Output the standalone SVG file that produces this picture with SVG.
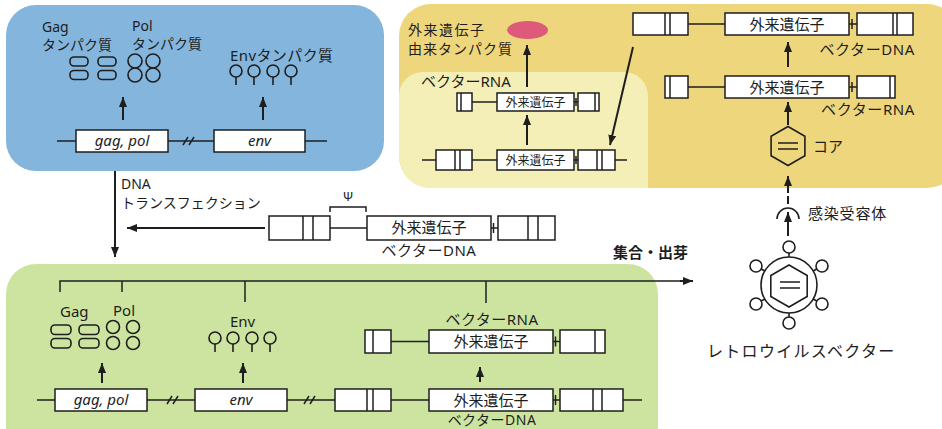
<svg xmlns="http://www.w3.org/2000/svg" width="942" height="429" viewBox="0 0 942 429">
  <style>
    text { font-family: "Noto Sans", "Noto Sans CJK JP", sans-serif; fill: #1e1e1e; font-size: 15px; }
    .sm { font-size: 12px; }
    .st { font-size: 14px; }
    .it { font-style: italic; }
    .mid { text-anchor: middle; }
    .end { text-anchor: end; }
    .ln { stroke: #1e1e1e; stroke-width: 1.5; fill: none; }
    .bx { fill: #ffffff; stroke: #1e1e1e; stroke-width: 1.5; }
    .pr { fill: none; stroke: #1e1e1e; stroke-width: 1.6; }
    .ar { stroke: #1e1e1e; stroke-width: 2; fill: none; marker-end: url(#ah); }
    .ard { stroke: #1e1e1e; stroke-width: 2; fill: none; stroke-dasharray: 8 3; marker-end: url(#ah); }
  </style>
  <defs>
    <marker id="ah" markerWidth="10" markerHeight="8" refX="10" refY="4" orient="auto" markerUnits="userSpaceOnUse">
      <path d="M0,0 L10,4 L0,8 z" fill="#1e1e1e"/>
    </marker>
    <clipPath id="yclip">
      <rect x="399" y="4" width="560" height="184" rx="32"/>
    </clipPath>
  </defs>

  <!-- packaging cell: plasmid expression -->
  <g id="packaging-cell">
    <rect x="6" y="5" width="378" height="166" rx="30" fill="#84b5dd"/>
    <text class="st" x="42" y="32">Gag</text>
    <text class="st" x="42" y="50">タンパク質</text>
    <text class="st" x="132" y="31">Pol</text>
    <text class="st" x="132" y="49">タンパク質</text>
    <text x="230" y="61" style="letter-spacing:0.4px">Envタンパク質</text>
    <rect class="pr" x="70" y="57" width="18" height="9" rx="4"/>
    <rect class="pr" x="98" y="57" width="18" height="9" rx="4"/>
    <rect class="pr" x="70" y="70.5" width="18" height="9" rx="4"/>
    <rect class="pr" x="98" y="70.5" width="18" height="9" rx="4"/>
    <circle class="pr" cx="135" cy="61" r="7"/>
    <circle class="pr" cx="153" cy="61" r="7"/>
    <circle class="pr" cx="135" cy="75" r="7"/>
    <circle class="pr" cx="153" cy="75" r="7"/>
    <g class="pr">
      <circle cx="236" cy="71" r="6"/><line x1="236" y1="77" x2="236" y2="85"/>
      <circle cx="254" cy="71" r="6"/><line x1="254" y1="77" x2="254" y2="85"/>
      <circle cx="273" cy="71" r="6"/><line x1="273" y1="77" x2="273" y2="85"/>
      <circle cx="291" cy="71" r="6"/><line x1="291" y1="77" x2="291" y2="85"/>
    </g>
    <line class="ln" x1="57" y1="141" x2="327" y2="141"/>
    <line class="ln" x1="183" y1="145" x2="188" y2="137"/>
    <line class="ln" x1="189" y1="145" x2="194" y2="137"/>
    <rect class="bx" x="76" y="130" width="92" height="22"/>
    <text class="it mid" x="122" y="146">gag, pol</text>
    <rect class="bx" x="214" y="130" width="91" height="22"/>
    <text class="it mid" x="259.5" y="146">env</text>
  </g>

  <!-- infected target cell -->
  <g id="target-cell">
    <rect x="399" y="4" width="560" height="184" rx="32" fill="#eed67c"/>
    <rect x="399" y="72" width="249" height="150" rx="24" fill="#f4efb6" clip-path="url(#yclip)"/>
    <ellipse cx="527.5" cy="30" rx="20.5" ry="9" fill="#de5a7a"/>
    <text class="st" x="408" y="35" style="letter-spacing:1.5px">外来遺伝子</text>
    <text class="st" x="408" y="54" style="letter-spacing:1px">由来タンパク質</text>
    <text x="421" y="87">ベクターRNA</text>
    <!-- transcript inside cell -->
    <line class="ln" x1="472" y1="102" x2="578" y2="102"/>
    <line class="ln" x1="576" y1="98" x2="576" y2="106"/>
    <rect class="bx" x="457" y="93" width="15" height="18"/>
    <line class="ln" x1="461" y1="93" x2="461" y2="111"/>
    <rect class="bx" x="497" y="93" width="77" height="18"/>
    <text class="sm mid" x="535.5" y="106.5">外来遺伝子</text>
    <rect class="bx" x="578" y="93" width="21" height="18"/>
    <line class="ln" x1="595" y1="93" x2="595" y2="111"/>
    <!-- integrated provirus -->
    <line class="ln" x1="422" y1="160" x2="627" y2="160"/>
    <line class="ln" x1="576" y1="156" x2="576" y2="164"/>
    <rect class="bx" x="436" y="150" width="36" height="20"/>
    <line class="ln" x1="455" y1="150" x2="455" y2="170"/>
    <line class="ln" x1="460" y1="150" x2="460" y2="170"/>
    <rect class="bx" x="497" y="150" width="77" height="20"/>
    <text class="sm mid" x="535.5" y="164.5">外来遺伝子</text>
    <rect class="bx" x="578" y="150" width="37" height="20"/>
    <line class="ln" x1="597" y1="150" x2="597" y2="170"/>
    <line class="ln" x1="602" y1="150" x2="602" y2="170"/>
    <!-- reverse transcribed DNA -->
    <line class="ln" x1="688" y1="24" x2="857" y2="24"/>
    <line class="ln" x1="852" y1="19" x2="852" y2="29"/>
    <rect class="bx" x="633" y="13" width="55" height="22"/>
    <line class="ln" x1="665" y1="13" x2="665" y2="35"/>
    <line class="ln" x1="670" y1="13" x2="670" y2="35"/>
    <rect class="bx" x="725" y="13" width="124" height="22"/>
    <text class="mid" x="787" y="29.5">外来遺伝子</text>
    <rect class="bx" x="857" y="13" width="56" height="22"/>
    <line class="ln" x1="893" y1="13" x2="893" y2="35"/>
    <line class="ln" x1="897" y1="13" x2="897" y2="35"/>
    <text class="end" x="915" y="55" style="letter-spacing:0.6px">ベクターDNA</text>
    <!-- genomic RNA from core -->
    <line class="ln" x1="688" y1="87" x2="857" y2="87"/>
    <line class="ln" x1="852" y1="82" x2="852" y2="92"/>
    <rect class="bx" x="665" y="76" width="23" height="22"/>
    <line class="ln" x1="670" y1="76" x2="670" y2="98"/>
    <rect class="bx" x="725" y="76" width="124" height="22"/>
    <text class="mid" x="787" y="92.5">外来遺伝子</text>
    <rect class="bx" x="857" y="76" width="38" height="22"/>
    <line class="ln" x1="890" y1="76" x2="890" y2="98"/>
    <text class="end" x="915" y="115" style="letter-spacing:0.6px">ベクターRNA</text>
    <!-- core -->
    <polygon class="pr" points="788,126.5 804.9,136.25 804.9,155.75 788,165.5 771.1,155.75 771.1,136.25"/>
    <line class="ln" x1="778" y1="143" x2="798" y2="143"/>
    <line class="ln" x1="778" y1="149" x2="798" y2="149"/>
    <text x="813" y="152">コア</text>
  </g>

  <!-- retroviral vector particle -->
  <g id="retrovirus-vector">
    <path class="pr" d="M777,219 A11,11 0 0 1 799,219"/>
    <text x="808" y="219" style="letter-spacing:0.8px">感染受容体</text>
    <circle class="pr" cx="789" cy="285" r="28"/>
    <polygon class="pr" points="789,265 807.2,275.5 807.2,296.5 789,307 770.8,296.5 770.8,275.5"/>
    <line class="ln" x1="780" y1="282" x2="800" y2="282"/>
    <line class="ln" x1="780" y1="288" x2="800" y2="288"/>
    <g class="pr">
      <circle cx="789" cy="247" r="6"/><line x1="789" y1="253" x2="789" y2="257"/>
      <circle cx="789" cy="323" r="6"/><line x1="789" y1="313" x2="789" y2="317"/>
      <circle cx="822" cy="266" r="6"/><line x1="813.2" y1="271" x2="816.8" y2="269"/>
      <circle cx="822" cy="304" r="6"/><line x1="813.2" y1="299" x2="816.8" y2="301"/>
      <circle cx="756" cy="266" r="6"/><line x1="764.8" y1="271" x2="761.2" y2="269"/>
      <circle cx="756" cy="304" r="6"/><line x1="764.8" y1="299" x2="761.2" y2="301"/>
    </g>
    <text x="707" y="357" style="font-size:16px;letter-spacing:1.3px">レトロウイルスベクター</text>
  </g>

  <!-- vector plasmid for transfection -->
  <g id="vector-plasmid">
    <line class="ln" x1="330" y1="228" x2="498" y2="228"/>
    <line class="ln" x1="493.5" y1="223" x2="493.5" y2="233"/>
    <rect class="bx" x="269" y="216" width="61" height="24"/>
    <line class="ln" x1="303" y1="216" x2="303" y2="240"/>
    <line class="ln" x1="313" y1="216" x2="313" y2="240"/>
    <path class="ln" d="M330,212 V207 H366 V212"/>
    <text class="mid" x="348" y="201" style="font-size:13px">Ψ</text>
    <rect class="bx" x="367" y="216" width="124" height="24"/>
    <text class="mid" x="429" y="233">外来遺伝子</text>
    <rect class="bx" x="498" y="216" width="57" height="24"/>
    <line class="ln" x1="528" y1="216" x2="528" y2="240"/>
    <line class="ln" x1="538" y1="216" x2="538" y2="240"/>
    <text class="mid" x="429" y="256" style="letter-spacing:0.5px">ベクターDNA</text>
  </g>

  <!-- producer cell -->
  <g id="producer-cell">
    <rect x="6" y="264" width="652" height="200" rx="30" fill="#cde4a0"/>
    <text x="60" y="317">Gag</text>
    <text x="113" y="316">Pol</text>
    <rect class="pr" x="51" y="325" width="20" height="9.5" rx="4"/>
    <rect class="pr" x="79" y="325" width="20" height="9.5" rx="4"/>
    <rect class="pr" x="51" y="338.5" width="20" height="9.5" rx="4"/>
    <rect class="pr" x="79" y="338.5" width="20" height="9.5" rx="4"/>
    <circle class="pr" cx="113" cy="327" r="6.5"/>
    <circle class="pr" cx="133" cy="327" r="6.5"/>
    <circle class="pr" cx="113" cy="343" r="6.5"/>
    <circle class="pr" cx="133" cy="343" r="6.5"/>
    <text x="230" y="327">Env</text>
    <g class="pr">
      <circle cx="215" cy="338" r="6"/><line x1="215" y1="344" x2="215" y2="352"/>
      <circle cx="233" cy="338" r="6"/><line x1="233" y1="344" x2="233" y2="352"/>
      <circle cx="252" cy="338" r="6"/><line x1="252" y1="344" x2="252" y2="352"/>
      <circle cx="270" cy="338" r="6"/><line x1="270" y1="344" x2="270" y2="352"/>
    </g>
    <line class="ln" x1="37" y1="400" x2="642" y2="400"/>
    <line class="ln" x1="167" y1="404" x2="172" y2="396"/>
    <line class="ln" x1="173" y1="404" x2="178" y2="396"/>
    <line class="ln" x1="304" y1="404" x2="309" y2="396"/>
    <line class="ln" x1="310" y1="404" x2="315" y2="396"/>
    <line class="ln" x1="555.5" y1="395" x2="555.5" y2="405"/>
    <rect class="bx" x="55" y="389" width="92" height="22"/>
    <text class="it mid" x="101" y="405">gag, pol</text>
    <rect class="bx" x="195" y="389" width="92" height="22"/>
    <text class="it mid" x="241" y="405">env</text>
    <rect class="bx" x="335" y="389" width="56" height="22"/>
    <line class="ln" x1="367" y1="389" x2="367" y2="411"/>
    <line class="ln" x1="373" y1="389" x2="373" y2="411"/>
    <rect class="bx" x="429" y="389" width="124" height="22"/>
    <text class="mid" x="491" y="405.5">外来遺伝子</text>
    <rect class="bx" x="560" y="389" width="63" height="22"/>
    <line class="ln" x1="593" y1="389" x2="593" y2="411"/>
    <line class="ln" x1="602" y1="389" x2="602" y2="411"/>
    <text class="mid st" x="492" y="425" style="letter-spacing:0.5px">ベクターDNA</text>
    <line class="ln" x1="391" y1="341.5" x2="560" y2="341.5"/>
    <line class="ln" x1="555.5" y1="336.5" x2="555.5" y2="346.5"/>
    <rect class="bx" x="365" y="330" width="26" height="23"/>
    <line class="ln" x1="373" y1="330" x2="373" y2="353"/>
    <rect class="bx" x="429" y="330" width="124" height="23"/>
    <text class="mid" x="491" y="347">外来遺伝子</text>
    <rect class="bx" x="560" y="330" width="45" height="23"/>
    <line class="ln" x1="595" y1="330" x2="595" y2="353"/>
    <text class="mid" x="492" y="325" style="letter-spacing:0.5px">ベクターRNA</text>
  </g>

  <!-- labels between cells -->
  <text class="st" x="121" y="189">DNA</text>
  <text class="st" x="121" y="208">トランスフェクション</text>
  <text x="613" y="258" style="font-weight:bold">集合・出芽</text>

  <!-- connectors -->
  <g id="connectors">
    <line class="ar" x1="123" y1="120" x2="123" y2="97"/>
    <line class="ar" x1="263" y1="120" x2="263" y2="97"/>
    <line class="ar" x1="115" y1="171" x2="115" y2="257"/>
    <line class="ar" x1="265" y1="228" x2="127" y2="228"/>
    <path class="ln" d="M60,292 V281 H690 M122,281 V292 M245,281 V302 M486,281 V303"/>
    <line class="ar" x1="680" y1="281" x2="693" y2="281"/>
    <line class="ar" x1="102" y1="383" x2="102" y2="363"/>
    <line class="ar" x1="243" y1="383" x2="243" y2="363"/>
    <line class="ar" x1="480" y1="382" x2="480" y2="367"/>
    <line class="ar" x1="527" y1="87" x2="527" y2="45"/>
    <line class="ar" x1="527" y1="145" x2="527" y2="115"/>
    <line class="ar" x1="633" y1="47" x2="610" y2="145"/>
    <line class="ar" x1="788" y1="67" x2="788" y2="42"/>
    <line class="ar" x1="788" y1="125" x2="788" y2="102"/>
    <line class="ard" x1="788" y1="204" x2="788" y2="176"/>
    <line class="ar" x1="788" y1="236" x2="788" y2="212"/>
  </g>
</svg>
